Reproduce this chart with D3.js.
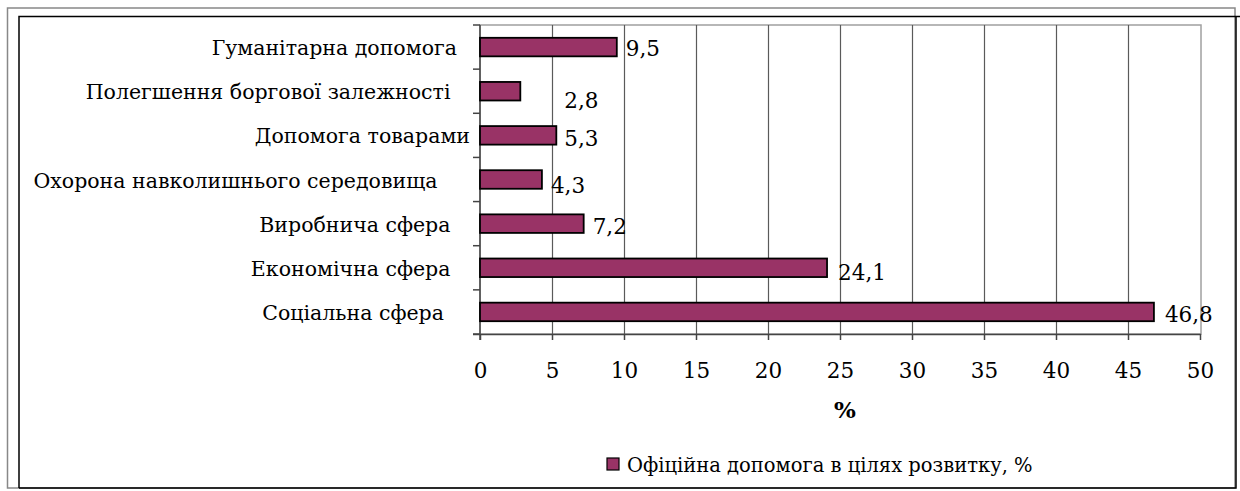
<!DOCTYPE html>
<html>
<head>
<meta charset="utf-8">
<script src="https://cdn.jsdelivr.net/npm/d3@7/dist/d3.min.js"></script>
<style>
  html, body { margin: 0; padding: 0; background: #fff; }
  svg { display: block; }
  text { font-family: "DejaVu Serif", "Liberation Serif", serif; fill: #000; }
</style>
</head>
<body>
<script>
// ---- data ----
const categories = [
  "Гуманітарна допомога",
  "Полегшення боргової залежності",
  "Допомога товарами",
  "Охорона навколишнього середовища",
  "Виробнича сфера",
  "Економічна сфера",
  "Соціальна сфера"
];
const categoryPadSpaces = [2, 3, 0, 5, 3, 3, 4];
const values = [9.5, 2.8, 5.3, 4.3, 7.2, 24.1, 46.8];
const xTicks = [0, 5, 10, 15, 20, 25, 30, 35, 40, 45, 50];
const seriesName = "Офіційна допомога в цілях розвитку, %";
const xTitle = "%";

// label nudges (style only): [dx from bar end, dy from bar centre]
const LABEL_NUDGE = [[9, 1], [44, 9], [8, 3], [9, 6], [9, 3], [11, 5], [11, 3]];

const W = 1240, H = 491;
const BAR = "#993366";
const plot = { left: 480, right: 1200, top: 25, bottom: 334 };

const svg = d3.select("body").append("svg").attr("width", W).attr("height", H);

// outer frames
svg.append("rect").attr("x", 7.5).attr("y", 8).attr("width", 1227.5).attr("height", 480)
  .attr("fill", "none").attr("stroke", "#888").attr("stroke-width", 1.5);
svg.append("path")
  .attr("d", "M19,488 L19,16.5 L1240,16.5 M1236,16.5 L1236,488 L19,488")
  .attr("fill", "none").attr("stroke", "#000").attr("stroke-width", 1.5);

const x = d3.scaleLinear().domain([0, 50]).range([plot.left, plot.right]);
const y = d3.scaleBand().domain(categories).range([plot.top, plot.bottom])
  .paddingInner(0.58).paddingOuter(0.29);
const gap = (y.step() - y.bandwidth()) / 2;

// plot area border
svg.append("rect").attr("x", plot.left).attr("y", plot.top)
  .attr("width", plot.right - plot.left + 1).attr("height", plot.bottom - plot.top)
  .attr("fill", "none").attr("stroke", "#a0a0a0").attr("stroke-width", 1.5);

// vertical gridlines
svg.append("g").selectAll("line").data(xTicks.filter(t => t > 0 && t < 50)).join("line")
  .attr("x1", d => Math.round(x(d)) + 0.5).attr("x2", d => Math.round(x(d)) + 0.5)
  .attr("y1", plot.top).attr("y2", plot.bottom)
  .attr("stroke", "#5a5a5a").attr("stroke-width", 1.2);

// x axis
const xAxis = d3.axisBottom(x).tickValues(xTicks).tickSize(6).tickSizeOuter(0).tickFormat(d3.format("d"));
const gx = svg.append("g").attr("transform", `translate(0,${plot.bottom})`).call(xAxis);
gx.select(".domain").attr("stroke", "#444").attr("stroke-width", 1.5)
  .attr("d", `M${plot.left - 7},0.5H${plot.right + 1}`);
gx.selectAll(".tick line").attr("stroke", "#444").attr("stroke-width", 1.5);
gx.selectAll(".tick text").attr("font-size", 21.5).attr("font-family", "DejaVu Serif")
  .attr("y", 36).attr("dy", "0.35em").attr("fill", "#000");

// y axis line + ticks at category boundaries
svg.append("line").attr("x1", plot.left).attr("x2", plot.left)
  .attr("y1", plot.top).attr("y2", plot.bottom + 6)
  .attr("stroke", "#444").attr("stroke-width", 1.5);
const boundaries = categories.map(c => y(c) - gap).concat([plot.bottom]);
svg.append("g").selectAll("line").data(boundaries).join("line")
  .attr("x1", plot.left - 7).attr("x2", plot.left)
  .attr("y1", d => d).attr("y2", d => d)
  .attr("stroke", "#444").attr("stroke-width", 1.5);

// category labels
svg.append("g").selectAll("text").data(categories).join("text")
  .attr("x", 470).attr("y", d => y(d) + y.bandwidth() / 2 + 1)
  .attr("text-anchor", "end").attr("dominant-baseline", "central")
  .attr("font-size", 20.5).style("white-space", "pre")
  .text((d, i) => d + " ".repeat(categoryPadSpaces[i]));

// bars
svg.append("g").selectAll("rect").data(values).join("rect")
  .attr("x", x(0)).attr("y", (d, i) => y(categories[i]))
  .attr("width", d => x(d) - x(0)).attr("height", y.bandwidth())
  .attr("fill", BAR).attr("stroke", "#000").attr("stroke-width", 1.8);

// value labels
const fmt = v => d3.format(".1f")(v).replace(".", ",");
svg.append("g").selectAll("text").data(values).join("text")
  .attr("x", (d, i) => x(d) + LABEL_NUDGE[i][0])
  .attr("y", (d, i) => y(categories[i]) + y.bandwidth() / 2 + LABEL_NUDGE[i][1])
  .attr("dominant-baseline", "central").attr("font-size", 21.5)
  .text(fmt);

// x title
svg.append("text").attr("x", (plot.left + plot.right) / 2 + 5).attr("y", 409)
  .attr("text-anchor", "middle").attr("dominant-baseline", "central")
  .attr("font-size", 23).attr("font-weight", "bold").text(xTitle);

// legend
svg.append("rect").attr("x", 607).attr("y", 458).attr("width", 12).attr("height", 12)
  .attr("fill", BAR).attr("stroke", "#000").attr("stroke-width", 1.2);
svg.append("text").attr("x", 627).attr("y", 465).attr("dominant-baseline", "central")
  .attr("font-size", 19.5).text(seriesName);
</script>
</body>
</html>
